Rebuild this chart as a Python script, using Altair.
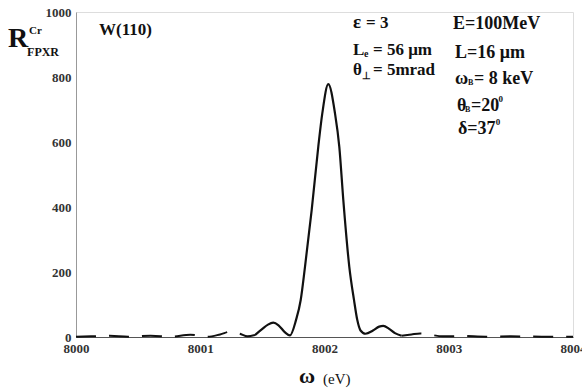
import altair as alt
import pandas as pd

# ---- curve (omega in eV, R in arbitrary units) ----
omega = [8000.00, 8000.12, 8000.27, 8000.42, 8000.60, 8000.76, 8000.92, 8001.06,
         8001.16, 8001.25, 8001.32, 8001.38, 8001.44, 8001.50, 8001.545, 8001.588,
         8001.63, 8001.68, 8001.722, 8001.7706, 8001.8085, 8001.843, 8001.897,
         8001.9501, 8001.9823, 8002.0306, 8002.0845, 8002.119, 8002.1513, 8002.1996,
         8002.2374, 8002.264, 8002.29, 8002.33, 8002.39, 8002.44, 8002.473, 8002.52,
         8002.567, 8002.62, 8002.70, 8002.77, 8002.85, 8002.95, 8003.10, 8003.30,
         8003.50, 8003.75, 8004.00]
r_fpxr = [1, 2, 4, 1, 4, 1, 7, 1,
          8, 17, 10, 2, 6, 25, 38, 44,
          36, 15, 5, 52, 114, 216, 391,
          586, 688, 778, 688, 586, 422, 216,
          114, 52, 20, 10, 20, 32, 34, 25,
          12, 4, 8, 11, 7, 2, 3, 1,
          2, 1, 1]

x_ticks = [8000, 8001, 8002, 8003, 8004]
y_ticks = [0, 200, 400, 600, 800, 1000]

# ---- annotation pieces: text, omega position, R position, font size ----
bold_text = ["R", "Cr", "FPXR", "W(110)",
             "ε", "= 3",
             "L", "e", "= 56 μm",
             "θ", "⊥", "= 5mrad",
             "E=100MeV",
             "L=16 μm",
             "ω", "B", "= 8 keV",
             "θ", "B", "=20", "0",
             "δ=37", "0",
             "ω"]
bold_om = [7999.453, 7999.622, 7999.606, 8000.185,
           8002.229, 8002.334,
           8002.229, 8002.318, 8002.390,
           8002.229, 8002.302, 8002.390,
           8003.034,
           8003.050,
           8003.050, 8003.155, 8003.203,
           8003.066, 8003.131, 8003.179, 8003.400,
           8003.074, 8003.378,
           8001.795]
bold_r = [892, 932, 865, 929,
          951, 951,
          868, 862, 868,
          806, 794, 806,
          948,
          858,
          778, 775, 778,
          695, 692, 695, 722,
          625, 652,
          -142]
bold_size = [28, 11, 12, 17,
             19, 17,
             17, 10, 17,
             17, 10, 17,
             18,
             18,
             18, 8, 18,
             18, 8, 18, 9,
             18, 9,
             22]

norm_text = ["(eV)"]
norm_om = [8001.988]
norm_r = [-145]
norm_size = [15]

SERIF = "'Liberation Serif', 'Times New Roman', Times, serif"

df = pd.DataFrame({"omega": omega, "R": r_fpxr})
bold_df = pd.DataFrame({"t": bold_text, "omega": bold_om, "R": bold_r, "s": bold_size})
norm_df = pd.DataFrame({"t": norm_text, "omega": norm_om, "R": norm_r, "s": norm_size})

xs = alt.Scale(domain=[8000, 8004], nice=False, zero=False)
ys = alt.Scale(domain=[0, 1000], nice=False)

x_enc = alt.X("omega:Q", scale=xs,
              axis=alt.Axis(values=x_ticks, format="d", title=None, ticks=False,
                            grid=False, labelFont=SERIF, labelFontSize=13,
                            labelFontWeight="bold", labelColor="#333",
                            domainColor="#555", domainWidth=1, labelPadding=5,
                            labelFlush=False))
y_enc = alt.Y("R:Q", scale=ys,
              axis=alt.Axis(values=y_ticks, format="d", title=None, ticks=False,
                            grid=False, labelFont=SERIF, labelFontSize=13,
                            labelFontWeight="bold", labelColor="#333",
                            domainColor="#999", domainWidth=1, labelPadding=5))

base = alt.Chart(df)
left_tail = base.transform_filter(alt.datum.omega <= 8001.44).mark_line(
    color="#111", strokeWidth=2, interpolate="monotone", strokeDash=[20, 13]
).encode(x=x_enc, y=y_enc)
core = base.transform_filter(
    (alt.datum.omega >= 8001.44) & (alt.datum.omega <= 8002.62)
).mark_line(color="#111", strokeWidth=2.2, interpolate="monotone").encode(x=x_enc, y=y_enc)
right_tail = base.transform_filter(alt.datum.omega >= 8002.62).mark_line(
    color="#111", strokeWidth=2, interpolate="monotone", strokeDash=[20, 13]
).encode(x=x_enc, y=y_enc)

bold_layer = alt.Chart(bold_df).mark_text(
    font=SERIF, fontWeight="bold", align="left", baseline="alphabetic", color="#111"
).encode(
    x=alt.X("omega:Q", scale=xs),
    y=alt.Y("R:Q", scale=ys),
    text="t:N",
    size=alt.Size("s:Q", scale=None, legend=None),
)
norm_layer = alt.Chart(norm_df).mark_text(
    font=SERIF, fontWeight="normal", align="left", baseline="alphabetic", color="#111"
).encode(
    x=alt.X("omega:Q", scale=xs),
    y=alt.Y("R:Q", scale=ys),
    text="t:N",
    size=alt.Size("s:Q", scale=None, legend=None),
)

chart = alt.layer(left_tail, core, right_tail, bold_layer, norm_layer).properties(
    width=497, height=325,
    padding={"left": 76, "top": 12, "right": 9, "bottom": 55},
    autosize=alt.AutoSizeParams(type="none"),
    background="white",
).configure_view(stroke=None).configure(font=SERIF)

chart.save("out.html", embed_options={"renderer": "svg", "actions": False})
